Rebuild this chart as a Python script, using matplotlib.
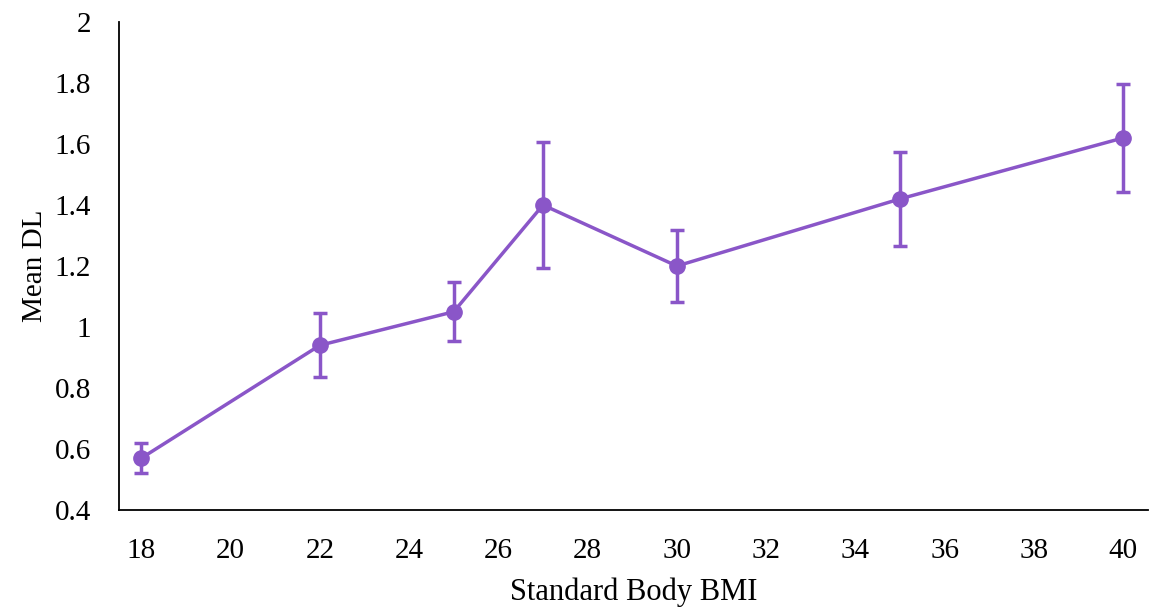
import matplotlib.pyplot as plt

bmi = [18, 22, 25, 27, 30, 35, 40]
mean_dl = [0.57, 0.94, 1.05, 1.40, 1.20, 1.42, 1.62]
err_dl = [0.05, 0.105, 0.097, 0.207, 0.117, 0.155, 0.178]

x_ticks = [18, 20, 22, 24, 26, 28, 30, 32, 34, 36, 38, 40]
y_ticks = [0.4, 0.6, 0.8, 1.0, 1.2, 1.4, 1.6, 1.8, 2.0]
y_labels = ['0.4', '0.6', '0.8', '1', '1.2', '1.4', '1.6', '1.8', '2']

color = '#8A56C8'

plt.rcParams['font.family'] = ['Liberation Serif', 'DejaVu Serif']

fig = plt.figure(figsize=(11.5, 6.12), dpi=100)
ax = fig.add_axes([0.1035, 0.1667, 0.8945, 0.7973])

ax.errorbar(bmi, mean_dl, yerr=err_dl, color=color, ecolor=color,
            linewidth=2.5, elinewidth=2.5, capsize=5, capthick=2.5,
            marker='o', markersize=11)

ax.set_xlim(17.5, 40.55)
ax.set_ylim(0.4, 2.0)
ax.set_xticks(x_ticks)
ax.set_yticks(y_ticks)
ax.set_yticklabels(y_labels)
ax.tick_params(length=0, labelsize=21)
ax.tick_params(axis='x', pad=20)
ax.tick_params(axis='y', pad=20)

for s in ['top', 'right']:
    ax.spines[s].set_visible(False)
for s in ['left', 'bottom']:
    ax.spines[s].set_linewidth(1.3)

ax.set_xlabel('Standard Body BMI', fontsize=22, labelpad=10)
ax.set_ylabel('Mean DL', fontsize=21, labelpad=5)

fig.savefig('out.png', dpi=100)
